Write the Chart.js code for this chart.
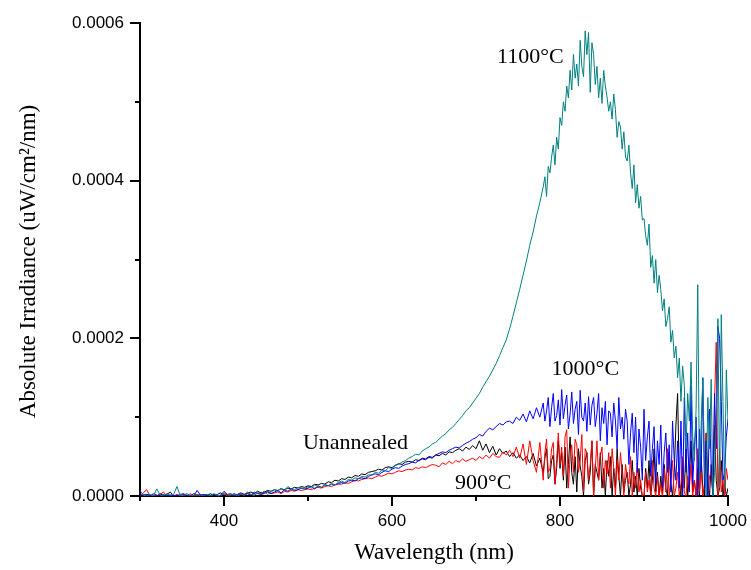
<!DOCTYPE html>
<html>
<head>
<meta charset="utf-8">
<script src="https://cdn.jsdelivr.net/npm/chart.js@4.4.1/dist/chart.umd.min.js"></script>
<style>
  body { margin: 0; background: #fff; }
</style>
</head>
<body>
<canvas id="myChart" width="751" height="570"></canvas>
<script>
// wavelength samples (nm): 4 nm steps up to 776, then 2 nm steps
const wavelengths = [
  300,304,308,312,316,320,324,328,332,336,
  340,344,348,352,356,360,364,368,372,376,
  380,384,388,392,396,400,404,408,412,416,
  420,424,428,432,436,440,444,448,452,456,
  460,464,468,472,476,480,484,488,492,496,
  500,504,508,512,516,520,524,528,532,536,
  540,544,548,552,556,560,564,568,572,576,
  580,584,588,592,596,600,604,608,612,616,
  620,624,628,632,636,640,644,648,652,656,
  660,664,668,672,676,680,684,688,692,696,
  700,704,708,712,716,720,724,728,732,736,
  740,744,748,752,756,760,764,768,772,776,
  780,782,784,786,788,790,792,794,796,798,
  800,802,804,806,808,810,812,814,816,818,
  820,822,824,826,828,830,832,834,836,838,
  840,842,844,846,848,850,852,854,856,858,
  860,862,864,866,868,870,872,874,876,878,
  880,882,884,886,888,890,892,894,896,898,
  900,902,904,906,908,910,912,914,916,918,
  920,922,924,926,928,930,932,934,936,938,
  940,942,944,946,948,950,952,954,956,958,
  960,962,964,966,968,970,972,974,976,978,
  980,982,984,986,988,990,992,994,996,998,
  1000
];

// irradiance, in units of 1e-6 uW/cm2/nm
const annealed1100 = [
  7,1,0,2,0,9,1,0,3,1,
  2,12,0,1,3,0,1,2,0,1,
  2,0,3,1,0,4,2,1,3,0,
  3,1,5,2,1,4,3,6,2,5,
  8,6,10,7,12,9,8,11,10,9,
  12,10,14,12,11,15,13,16,14,17,
  19,17,21,20,23,22,25,24,27,26,
  30,29,33,32,36,35,39,40,43,45,
  48,50,53,52,57,60,62,66,68,72,
  76,79,84,87,92,97,102,108,112,118,
  124,130,138,145,152,160,168,178,188,198,
  212,228,245,262,280,298,318,335,355,372,
  392,405,380,418,410,430,445,420,455,440,
  480,470,500,488,520,505,540,515,560,530,
  548,520,578,545,532,590,560,588,512,575,
  560,522,545,505,530,498,540,520,506,488,
  500,478,510,490,455,475,468,440,462,430,
  425,445,410,390,420,372,395,365,380,350,
  352,330,318,345,290,305,270,300,258,280,
  262,235,250,215,225,240,195,210,175,190,
  150,175,120,165,140,60,130,95,170,75,
  45,110,268,20,90,150,40,0,125,60,
  148,0,30,95,225,10,230,120,10,160,
  95
];
const annealed1000 = [
  0,2,1,0,3,1,0,2,0,1,
  1,0,2,3,0,1,0,7,1,2,
  0,1,2,0,1,6,2,3,0,2,
  4,2,3,1,5,3,2,4,6,3,
  5,7,4,8,6,9,7,8,10,9,
  10,12,9,13,11,14,13,15,14,16,
  17,16,19,20,19,22,23,22,25,27,
  28,27,30,32,31,34,36,35,38,40,
  41,43,42,45,47,46,49,48,52,54,
  56,55,58,60,62,61,64,67,69,72,
  74,78,76,82,86,84,88,92,90,94,
  95,92,100,96,104,94,108,98,112,100,
  118,95,108,125,88,112,130,95,102,122,
  90,135,98,115,128,85,104,132,92,110,
  120,78,134,100,95,118,82,126,90,115,
  125,88,105,130,70,112,92,120,65,108,
  105,75,118,95,60,125,85,100,72,110,
  95,40,80,105,55,100,30,85,62,20,
  110,45,75,95,25,60,88,15,70,40,
  90,10,55,80,30,65,5,95,45,20,
  70,10,95,0,125,30,80,5,140,15,
  60,100,0,85,30,150,10,70,0,110,
  40,0,130,60,215,200,120,20,30,75,
  98
];
const annealed900 = [
  0,4,8,0,1,0,2,5,0,1,
  0,2,0,1,0,3,0,1,2,0,
  1,0,2,0,1,3,0,2,1,0,
  2,1,3,2,1,4,2,3,5,3,
  4,5,3,6,5,7,6,8,7,8,
  9,8,10,11,10,12,13,12,14,15,
  15,17,16,18,20,19,21,22,23,22,
  24,26,25,27,29,28,30,32,31,33,
  34,33,36,35,37,36,38,40,39,37,
  42,40,44,41,45,43,47,44,46,48,
  45,50,47,52,48,54,50,49,56,52,
  58,50,62,48,66,40,70,45,30,68,
  20,55,72,30,35,60,68,15,45,80,
  40,62,25,75,84,10,50,65,30,72,
  65,30,45,78,5,60,55,20,40,70,
  0,35,70,20,50,62,10,45,28,55,
  10,60,35,0,45,20,55,30,0,40,
  25,15,50,0,30,10,42,5,20,0,
  0,30,5,20,0,45,10,0,25,0,
  15,0,35,5,60,0,20,45,0,10,
  30,0,15,50,5,0,25,10,40,0,
  20,0,60,5,35,0,15,80,0,25,
  30,0,120,195,0,60,5,20,0,35,
  20
];
const unannealed = [
  1,0,2,1,0,0,3,0,2,5,
  0,1,0,2,1,0,3,1,0,2,
  1,3,0,2,4,1,2,0,3,1,
  3,2,4,5,3,6,4,5,7,6,
  8,7,9,8,10,9,11,10,12,11,
  13,12,15,14,16,15,18,17,20,19,
  22,21,24,23,26,25,28,27,30,31,
  32,34,33,36,37,36,39,41,40,43,
  44,43,46,45,48,47,50,49,52,51,
  54,52,56,55,58,60,57,62,59,64,
  60,70,58,66,55,63,52,60,54,57,
  50,55,48,52,45,50,42,54,38,48,
  30,48,60,22,25,45,52,15,35,70,
  35,55,20,62,10,40,75,30,15,50,
  5,60,38,25,0,45,55,15,30,70,
  0,40,30,20,55,10,35,0,45,25,
  50,0,35,10,60,25,0,40,5,20,
  30,0,15,45,5,25,0,35,10,0,
  0,35,10,45,0,20,60,5,30,0,
  25,0,40,10,0,55,15,0,30,90,
  130,20,0,45,10,60,0,25,70,5,
  20,0,35,0,50,10,0,80,15,0,
  40,0,90,20,0,10,45,0,15,0,
  10
];
const UNIT = 1e-6;

const xTicks = [300, 400, 500, 600, 700, 800, 900, 1000];
const xTickLabels = ['', '400', '', '600', '', '800', '', '1000'];
const yTicks = [0, 0.0001, 0.0002, 0.0003, 0.0004, 0.0005, 0.0006];
const yTickLabels = ['0.0000', '', '0.0002', '', '0.0004', '', '0.0006'];

const seriesLabels = ['1100°C', '1000°C', '900°C', 'Unannealed'];
const seriesData = [annealed1100, annealed1000, annealed900, unannealed];
const seriesColors = ['#008080', '#0000ff', '#ff0000', '#000000'];

// curve labels placed in data coordinates
const curveNotes = [
  { text: '1100°C', x: 725, y: 0.000549 },
  { text: '1000°C', x: 790, y: 0.000153 },
  { text: 'Unannealed', x: 494, y: 0.000060 },
  { text: '900°C', x: 675, y: 0.000009 }
];

function findLabel(values, labels, v) {
  for (let i = 0; i < values.length; i++) {
    if (Math.abs(values[i] - v) < 1e-9) return labels[i];
  }
  return '';
}

const decor = {
  id: 'decor',
  afterDraw(chart) {
    const ctx = chart.ctx;
    const area = chart.chartArea;
    const xs = chart.scales.x, ys = chart.scales.y;
    ctx.save();
    ctx.strokeStyle = '#000';
    ctx.lineWidth = 2;
    ctx.beginPath();
    xs.ticks.forEach((t, i) => {
      const px = Math.round(xs.getPixelForTick(i));
      const len = findLabel(xTicks, xTickLabels, t.value) ? 10 : 5;
      ctx.moveTo(px, area.bottom);
      ctx.lineTo(px, area.bottom + len);
    });
    ys.ticks.forEach((t, i) => {
      const py = Math.round(ys.getPixelForTick(i));
      const len = findLabel(yTicks, yTickLabels, t.value) ? 10 : 5;
      ctx.moveTo(area.left, py);
      ctx.lineTo(area.left - len, py);
    });
    ctx.stroke();

    ctx.fillStyle = '#000';
    ctx.font = '22px "Liberation Serif"';
    ctx.textAlign = 'left';
    ctx.textBaseline = 'alphabetic';
    curveNotes.forEach(n => {
      ctx.fillText(n.text, xs.getPixelForValue(n.x), ys.getPixelForValue(n.y));
    });

    // axis titles
    ctx.font = '23px "Liberation Serif"';
    ctx.textAlign = 'center';
    ctx.fillText('Wavelength (nm)', (area.left + area.right) / 2, 559);
    ctx.translate(35, (area.top + area.bottom) / 2 + 2);
    ctx.rotate(-Math.PI / 2);
    ctx.fillText('Absolute Irradiance (uW/cm²/nm)', 0, 0);
    ctx.restore();
  }
};

const datasets = seriesData.map((vals, s) => ({
  label: seriesLabels[s],
  data: wavelengths.map((w, i) => ({ x: w, y: vals[i] * UNIT })),
  borderColor: seriesColors[s],
  borderWidth: 1,
  pointRadius: 0,
  tension: 0,
  fill: false
}));

const ctx = document.getElementById('myChart').getContext('2d');
new Chart(ctx, {
  type: 'line',
  data: { datasets: datasets },
  options: {
    responsive: false,
    animation: false,
    layout: { padding: { left: 0, top: 23, right: 23, bottom: 0 } },
    plugins: { legend: { display: false }, tooltip: { enabled: false } },
    scales: {
      x: {
        type: 'linear',
        min: 300,
        max: 1000,
        afterFit: s => { s.height = 74; s.paddingLeft = 0; s.paddingRight = 0; },
        afterBuildTicks: s => { s.ticks = xTicks.map(v => ({ value: v })); },
        ticks: {
          autoSkip: false,
          maxRotation: 0,
          padding: 15,
          color: '#000',
          font: { family: 'Liberation Sans', size: 17 },
          callback: v => findLabel(xTicks, xTickLabels, v)
        },
        grid: { display: false, drawTicks: false },
        border: { display: true, color: '#000', width: 2 }
      },
      y: {
        min: 0,
        max: 0.0006,
        afterFit: s => { s.width = 140; s.paddingTop = 0; s.paddingBottom = 0; },
        afterBuildTicks: s => { s.ticks = yTicks.map(v => ({ value: v })); },
        ticks: {
          autoSkip: false,
          padding: 16,
          color: '#000',
          font: { family: 'Liberation Sans', size: 17 },
          callback: v => findLabel(yTicks, yTickLabels, v)
        },
        grid: { display: false, drawTicks: false },
        border: { display: true, color: '#000', width: 2 }
      }
    }
  },
  plugins: [decor]
});
</script>
</body>
</html>
